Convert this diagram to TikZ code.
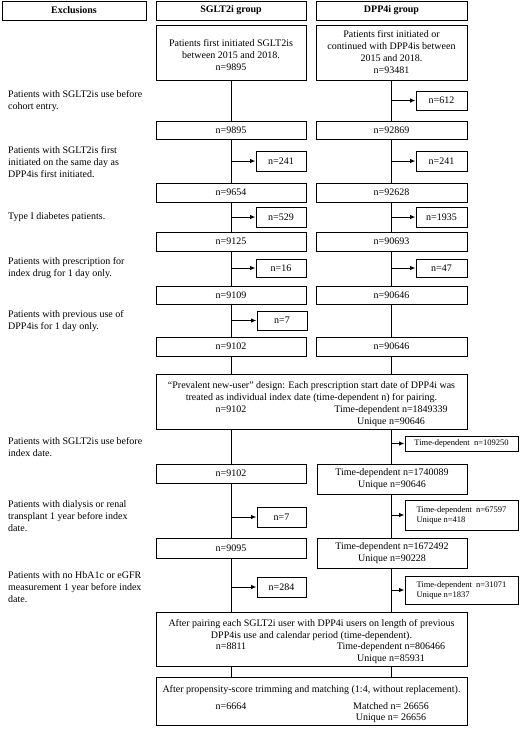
\documentclass[tikz,border=0pt]{standalone}
\usepackage{fontspec}
\setmainfont{Liberation Serif}
\usetikzlibrary{arrows.meta}
\begin{document}
\begin{tikzpicture}[x=1pt,y=-1pt,
  box/.style={draw, line width=1pt, inner sep=0pt, align=center, font=\fontsize{10}{12}\selectfont},
  hbox/.style={box, font=\bfseries\fontsize{10}{12}\selectfont},
  small/.style={draw, line width=1pt, inner sep=0pt, align=left, font=\fontsize{8.5}{10}\selectfont},
  txt/.style={inner sep=0pt, anchor=base, font=\fontsize{10}{12}\selectfont},
  side/.style={inner sep=0pt, align=left, anchor=west, font=\fontsize{10}{12}\selectfont},
  conn/.style={line width=1pt},
  arr/.style={line width=1pt, -{Latex[length=5.5pt,width=4.5pt]}},
]
\useasboundingbox (0,0) rectangle (520,734);

% headers
\node[hbox, minimum width=144pt, minimum height=19pt] (hx) at (74,10.5) {Exclusions};
\node[hbox, minimum width=150pt, minimum height=19pt] (hs) at (231,10.5) {SGLT2i group};
\node[hbox, minimum width=151pt, minimum height=19pt] (hd) at (391.5,10.5) {DPP4i group};

% first boxes
\node[box, minimum width=150pt, minimum height=55pt] (s0) at (231,52.5) {\mbox{}\\Patients first initiated SGLT2is\\between 2015 and 2018.\\n=9895};
\node[box, minimum width=151pt, minimum height=55pt] (d0) at (391.5,52.5) {Patients first initiated or\\continued with DPP4is between\\2015 and 2018.\\n=93481};
\node[box, minimum width=51pt, minimum height=19pt] (dx1) at (441.5,100.5) {n=612};

\node[box, minimum width=150pt, minimum height=18pt] (s1) at (231,130.5) {n=9895};
\node[box, minimum width=151pt, minimum height=18pt] (d1) at (391.5,130.5) {n=92869};
\node[box, minimum width=50pt, minimum height=20pt] (sx2) at (281,161) {n=241};
\node[box, minimum width=51pt, minimum height=20pt] (dx2) at (441.5,161) {n=241};

\node[box, minimum width=150pt, minimum height=19pt] (s2) at (231,192.5) {n=9654};
\node[box, minimum width=151pt, minimum height=19pt] (d2) at (391.5,192.5) {n=92628};
\node[box, minimum width=50pt, minimum height=20pt] (sx3) at (281,217) {n=529};
\node[box, minimum width=51pt, minimum height=20pt] (dx3) at (441.5,217) {n=1935};

\node[box, minimum width=150pt, minimum height=19pt] (s3) at (231,241.5) {n=9125};
\node[box, minimum width=151pt, minimum height=19pt] (d3) at (391.5,241.5) {n=90693};
\node[box, minimum width=50pt, minimum height=18pt] (sx4) at (281,268) {n=16};
\node[box, minimum width=51pt, minimum height=18pt] (dx4) at (441.5,268) {n=47};

\node[box, minimum width=150pt, minimum height=18pt] (s4) at (231,295) {n=9109};
\node[box, minimum width=151pt, minimum height=18pt] (d4) at (391.5,295) {n=90646};
\node[box, minimum width=50pt, minimum height=19pt] (sx5) at (282,320.5) {n=7};

\node[box, minimum width=150pt, minimum height=19pt] (s5) at (231,346.5) {n=9102};
\node[box, minimum width=151pt, minimum height=19pt] (d5) at (391.5,346.5) {n=90646};

% prevalent new-user box
\node[box, minimum width=311pt, minimum height=55pt] (prev) at (311.5,401.5) {};
\node[txt] (p1) at (311.5,388.5) {``Prevalent new-user'' design: Each prescription start date of DPP4i was};
\node[txt] (p2) at (311.5,400.5) {treated as individual index date (time-dependent n) for pairing.};
\node[txt] (p3) at (231,412.5) {n=9102};
\node[txt] (p4) at (391,412.5) {Time-dependent n=1849339};
\node[txt] (p5) at (391,424.5) {Unique n=90646};

\node[small, align=center, minimum width=113pt, minimum height=15pt] (dx6) at (461.5,443.5) {Time-dependent\ \ n=109250};

\node[box, minimum width=150pt, minimum height=19pt] (s6) at (231,473.5) {n=9102};
\node[box, minimum width=150pt, minimum height=30pt] (d6) at (392,479) {Time-dependent n=1740089\\Unique n=90646};
\node[box, minimum width=49pt, minimum height=20pt] (sx7) at (281.5,517) {n=7};
\node[small, minimum width=113pt, minimum height=30pt] (dx7) at (461.5,515) {Time-dependent\ \ n=67597\\Unique n=418};

\node[box, minimum width=150pt, minimum height=20pt] (s7) at (231,548) {n=9095};
\node[box, minimum width=150pt, minimum height=30pt] (d7) at (392,553) {Time-dependent n=1672492\\Unique n=90228};
\node[box, minimum width=49pt, minimum height=20pt] (sx8) at (281.5,587) {n=284};
\node[small, minimum width=113pt, minimum height=28pt] (dx8) at (461.5,590) {Time-dependent\ \ n=31071\\Unique n=1837};

% pairing box
\node[box, minimum width=311pt, minimum height=54pt] (pair) at (311.5,639) {};
\node[txt] (q1) at (311.5,626.5) {After pairing each SGLT2i user with DPP4i users on length of previous};
\node[txt] (q2) at (311.5,638.5) {DPP4is use and calendar period (time-dependent).};
\node[txt] (q3) at (231,649.5) {n=8811};
\node[txt] (q4) at (391,649.5) {Time-dependent n=806466};
\node[txt] (q5) at (391,661.5) {Unique n=85931};

% final box
\node[box, minimum width=311pt, minimum height=48pt] (final) at (311.5,701) {};
\node[txt] (r1) at (311.5,692.5) {After propensity-score trimming and matching (1:4, without replacement).};
\node[txt] (r2) at (231,709.5) {n=6664};
\node[txt] (r3) at (391,709.5) {Matched n= 26656};
\node[txt] (r4) at (391,720.5) {Unique n= 26656};

% exclusion texts
\node[side] (t1) at (8,101) {Patients with SGLT2is use before\\cohort entry.};
\node[side] (t2) at (8,162) {Patients with SGLT2is first\\initiated on the same day as\\DPP4is first initiated.};
\node[side] (t3) at (8,217) {Type I diabetes patients.};
\node[side] (t4) at (8,268.5) {Patients with prescription for\\index drug for 1 day only.};
\node[side] (t5) at (8,321) {Patients with previous use of\\DPP4is for 1 day only.};
\node[side] (t6) at (8,447) {Patients with SGLT2is use before\\index date.};
\node[side] (t7) at (8,516) {Patients with dialysis or renal\\transplant 1 year before index\\date.};
\node[side] (t8) at (8,587) {Patients with no HbA1c or eGFR\\measurement 1 year before index\\date.};

% SGLT2i column connectors
\draw[conn] (s0.south) -- (s1.north);
\draw[conn] (s1.south) -- (s2.north);
\draw[conn] (s2.south) -- (s3.north);
\draw[conn] (s3.south) -- (s4.north);
\draw[conn] (s4.south) -- (s5.north);
\draw[conn] (s5.south) -- (s5.south |- prev.north);
\draw[conn] (s6.north |- prev.south) -- (s6.north);
\draw[conn] (s6.south) -- (s7.north);
\draw[conn] (s7.south) -- (s7.south |- pair.north);
\draw[conn] (s7.south |- pair.south) -- (s7.south |- final.north);
\draw[arr] (s1.south |- sx2.west) -- (sx2.west);
\draw[arr] (s2.south |- sx3.west) -- (sx3.west);
\draw[arr] (s3.south |- sx4.west) -- (sx4.west);
\draw[arr] (s4.south |- sx5.west) -- (sx5.west);
\draw[arr] (s6.south |- sx7.west) -- (sx7.west);
\draw[arr] (s7.south |- sx8.west) -- (sx8.west);

% DPP4i column connectors
\draw[conn] (d0.south) -- (d1.north);
\draw[conn] (d1.south) -- (d2.north);
\draw[conn] (d2.south) -- (d3.north);
\draw[conn] (d3.south) -- (d4.north);
\draw[conn] (d4.south) -- (d5.north);
\draw[conn] (d5.south) -- (d5.south |- prev.north);
\draw[conn] (d5.south |- prev.south) -- (d5.south |- d6.north);
\draw[conn] (d5.south |- d6.south) -- (d5.south |- d7.north);
\draw[conn] (d5.south |- d7.south) -- (d5.south |- pair.north);
\draw[conn] (d5.south |- pair.south) -- (d5.south |- final.north);
\draw[arr] (d0.south |- dx1.west) -- (dx1.west);
\draw[arr] (d1.south |- dx2.west) -- (dx2.west);
\draw[arr] (d2.south |- dx3.west) -- (dx3.west);
\draw[arr] (d3.south |- dx4.west) -- (dx4.west);
\draw[arr] (d5.south |- dx6.west) -- (dx6.west);
\draw[arr] (d5.south |- dx7.west) -- (dx7.west);
\draw[arr] (d5.south |- dx8.west) -- (dx8.west);
\end{tikzpicture}
\end{document}
